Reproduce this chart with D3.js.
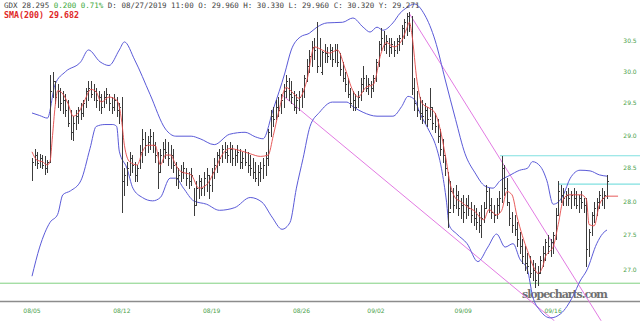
<!DOCTYPE html>
<meta charset="utf-8">
<!-- Load d3.js -->
<script src="https://d3js.org/d3.v7.min.js"></script>
<style>
  body { margin: 0; background: #fff; }
  svg { display: block; }
</style>
<div id="my_dataviz"></div>
<script>

// hourly bars, 7 per trading day
var highs = [
  28.65, 28.80, 28.75, 28.72, 28.70, 28.68, 28.62,
  29.95, 30.00, 29.85, 29.80, 29.75, 29.70, 29.65,
  29.55, 29.40, 29.30, 29.40, 29.45, 29.50, 29.55,
  29.75, 29.85, 29.85, 29.80, 29.75, 29.70, 29.65,
  29.70, 29.75, 29.65, 29.60, 29.65, 29.60, 29.50,
  29.60, 28.50, 28.60, 28.75, 28.70, 28.60, 28.55,
  28.85, 29.10, 29.05, 29.00, 29.10, 29.05, 28.90,
  28.75, 28.80, 28.90, 28.95, 28.90, 28.85, 28.80,
  28.60, 28.50, 28.55, 28.60, 28.50, 28.45, 28.50,
  28.20, 28.30, 28.40, 28.35, 28.45, 28.50, 28.40,
  28.50, 28.65, 28.75, 28.80, 28.85, 28.90, 28.85,
  28.90, 28.85, 28.80, 28.85, 28.80, 28.75, 28.80,
  28.75, 28.70, 28.65, 28.60, 28.55, 28.60, 28.65,
  28.75, 29.10, 29.40, 29.45, 29.55, 29.60, 29.65,
  29.80, 29.95, 29.90, 29.85, 29.70, 29.65, 29.70,
  29.75, 29.95, 30.20, 30.35, 30.50, 30.55, 30.80,
  30.55, 30.33, 30.45, 30.40, 30.45, 30.40, 30.45,
  30.45, 30.30, 30.15, 30.00, 29.90, 29.75, 29.70,
  29.65, 29.70, 29.90, 30.10, 29.95, 29.90, 29.85,
  29.95, 30.20, 30.50, 30.70, 30.65, 30.60, 30.55,
  30.55, 30.50, 30.55, 30.60, 30.75, 30.85, 30.95,
  30.97, 30.90, 29.90, 29.70, 29.60, 29.55, 29.50,
  29.45, 29.75, 29.45, 29.35, 29.25, 29.10, 28.95,
  28.70, 28.45, 28.30, 28.20, 28.25, 28.15, 28.05,
  28.10, 28.05, 28.10, 28.00, 27.95, 27.90, 27.85,
  27.95, 28.00, 28.25, 28.20, 28.05, 27.95, 28.05,
  28.15, 28.68, 28.55, 28.35, 28.00, 27.85, 27.80,
  27.70, 27.55, 27.45, 27.35, 27.25, 27.20, 27.15,
  27.10, 27.05, 27.20, 27.35, 27.45, 27.50, 27.45,
  27.55, 27.90, 28.30, 28.25, 28.20, 28.15, 28.20,
  28.15, 28.20, 28.15, 28.10, 28.15, 28.05, 28.05,
  27.60, 27.85, 28.00, 28.05, 28.15, 28.20, 28.15,
  28.40
];
var lows = [
  28.32, 28.55, 28.50, 28.52, 28.50, 28.42, 28.45,
  28.60, 29.60, 29.50, 29.45, 29.40, 29.35, 29.30,
  29.15, 28.95, 28.93, 29.10, 29.20, 29.25, 29.30,
  29.45, 29.55, 29.60, 29.55, 29.45, 29.40, 29.35,
  29.45, 29.50, 29.40, 29.35, 29.40, 29.30, 29.20,
  27.85, 28.10, 28.25, 28.40, 28.45, 28.30, 28.30,
  28.50, 28.60, 28.70, 28.75, 28.80, 28.75, 28.60,
  28.20, 28.45, 28.60, 28.65, 28.55, 28.50, 28.45,
  28.25, 28.20, 28.30, 28.35, 28.25, 28.20, 28.25,
  27.80, 27.95, 28.05, 28.10, 28.10, 28.15, 28.05,
  28.15, 28.35, 28.45, 28.55, 28.60, 28.65, 28.60,
  28.60, 28.55, 28.55, 28.60, 28.50, 28.50, 28.55,
  28.45, 28.40, 28.35, 28.30, 28.25, 28.30, 28.35,
  28.40, 28.55, 29.00, 29.15, 29.25, 29.30, 29.35,
  29.45, 29.60, 29.55, 29.50, 29.40, 29.35, 29.40,
  29.45, 29.60, 29.85, 30.00, 30.10, 30.20, 30.00,
  30.10, 29.96, 30.15, 30.15, 30.20, 30.10, 30.15,
  30.10, 29.95, 29.85, 29.70, 29.60, 29.45, 29.40,
  29.40, 29.45, 29.55, 29.70, 29.70, 29.65, 29.60,
  29.70, 29.85, 30.10, 30.35, 30.35, 30.30, 30.25,
  30.30, 30.25, 30.30, 30.35, 30.45, 30.55, 30.60,
  30.65, 29.65, 29.40, 29.30, 29.25, 29.20, 29.20,
  29.15, 29.30, 29.10, 29.05, 28.90, 28.70, 28.60,
  28.40, 27.62, 27.90, 27.85, 27.90, 27.80, 27.75,
  27.70, 27.75, 27.80, 27.70, 27.65, 27.60, 27.55,
  27.48, 27.70, 27.90, 27.85, 27.75, 27.70, 27.75,
  27.85, 28.00, 28.10, 27.95, 27.65, 27.55, 27.50,
  27.35, 27.25, 27.10, 27.00, 26.95, 26.90, 26.85,
  26.75, 26.78, 26.95, 27.05, 27.15, 27.25, 27.20,
  27.25, 27.45, 27.80, 28.00, 27.95, 27.95, 27.95,
  27.90, 27.95, 27.90, 27.85, 27.90, 27.85, 27.05,
  27.20, 27.50, 27.70, 27.80, 27.90, 27.95, 27.90,
  28.05
];
var opens = [
  28.40, 28.60, 28.70, 28.58, 28.65, 28.55, 28.50,
  28.62, 29.70, 29.85, 29.60, 29.70, 29.50, 29.55,
  29.40, 29.20, 29.05, 29.20, 29.30, 29.40, 29.35,
  29.50, 29.70, 29.75, 29.65, 29.70, 29.55, 29.60,
  29.45, 29.60, 29.65, 29.50, 29.45, 29.55, 29.40,
  29.45, 28.30, 28.40, 28.50, 28.65, 28.55, 28.40,
  28.50, 28.75, 28.95, 28.85, 28.90, 29.00, 28.85,
  28.70, 28.45, 28.70, 28.80, 28.75, 28.65, 28.70,
  28.55, 28.35, 28.40, 28.45, 28.50, 28.35, 28.30,
  28.10, 27.95, 28.20, 28.30, 28.20, 28.35, 28.40,
  28.25, 28.45, 28.55, 28.70, 28.65, 28.80, 28.75,
  28.70, 28.80, 28.65, 28.70, 28.75, 28.60, 28.65,
  28.60, 28.55, 28.50, 28.45, 28.35, 28.45, 28.50,
  28.55, 28.65, 29.05, 29.30, 29.25, 29.45, 29.40,
  29.55, 29.70, 29.85, 29.65, 29.60, 29.45, 29.55,
  29.60, 29.70, 29.90, 30.10, 30.25, 30.40, 30.35,
  30.10, 29.96, 30.32, 30.30, 30.25, 30.35, 30.20,
  30.35, 30.15, 30.05, 29.90, 29.80, 29.65, 29.50,
  29.55, 29.45, 29.60, 29.80, 29.90, 29.75, 29.80,
  29.75, 29.90, 30.15, 30.45, 30.55, 30.45, 30.50,
  30.40, 30.45, 30.35, 30.50, 30.55, 30.70, 30.80,
  30.90, 30.75, 29.75, 29.50, 29.40, 29.35, 29.30,
  29.40, 29.25, 29.45, 29.20, 29.15, 29.00, 28.80,
  28.70, 28.45, 27.85, 28.15, 27.95, 28.10, 27.90,
  27.95, 27.85, 27.95, 27.90, 27.80, 27.75, 27.70,
  27.65, 27.75, 27.90, 28.15, 27.95, 27.85, 27.80,
  27.95, 28.05, 28.50, 28.20, 28.00, 27.75, 27.65,
  27.60, 27.45, 27.35, 27.20, 27.10, 27.05, 26.95,
  27.00, 26.85, 26.95, 27.15, 27.25, 27.40, 27.35,
  27.40, 27.50, 27.80, 28.15, 28.10, 28.05, 28.10,
  28.05, 28.10, 28.05, 27.95, 28.05, 28.00, 27.95,
  27.30, 27.55, 27.80, 27.90, 28.00, 28.10, 28.05,
  28.10
];
var closes = [
  28.60, 28.70, 28.58, 28.65, 28.55, 28.50, 28.60,
  29.70, 29.85, 29.60, 29.70, 29.50, 29.55, 29.40,
  29.20, 29.05, 29.20, 29.30, 29.40, 29.35, 29.50,
  29.70, 29.75, 29.65, 29.70, 29.55, 29.60, 29.45,
  29.60, 29.65, 29.50, 29.45, 29.55, 29.40, 29.45,
  28.30, 28.40, 28.50, 28.65, 28.55, 28.40, 28.50,
  28.75, 28.95, 28.85, 28.90, 29.00, 28.85, 28.70,
  28.45, 28.70, 28.80, 28.75, 28.65, 28.70, 28.55,
  28.35, 28.40, 28.45, 28.50, 28.35, 28.30, 28.40,
  27.95, 28.20, 28.30, 28.20, 28.35, 28.40, 28.25,
  28.45, 28.55, 28.70, 28.65, 28.80, 28.75, 28.70,
  28.80, 28.65, 28.70, 28.75, 28.60, 28.65, 28.60,
  28.55, 28.50, 28.45, 28.35, 28.45, 28.50, 28.55,
  28.65, 29.05, 29.30, 29.25, 29.45, 29.40, 29.55,
  29.70, 29.85, 29.65, 29.60, 29.45, 29.55, 29.60,
  29.70, 29.90, 30.10, 30.25, 30.40, 30.35, 30.10,
  30.00, 30.32, 30.30, 30.25, 30.35, 30.20, 30.35,
  30.15, 30.05, 29.90, 29.80, 29.65, 29.50, 29.55,
  29.45, 29.60, 29.80, 29.90, 29.75, 29.80, 29.75,
  29.90, 30.15, 30.45, 30.55, 30.45, 30.50, 30.40,
  30.45, 30.35, 30.50, 30.55, 30.70, 30.80, 30.90,
  30.75, 29.75, 29.50, 29.40, 29.35, 29.30, 29.40,
  29.25, 29.45, 29.20, 29.15, 29.00, 28.80, 28.70,
  28.50, 27.85, 28.15, 27.95, 28.10, 27.90, 27.95,
  27.85, 27.95, 27.90, 27.80, 27.75, 27.70, 27.65,
  27.75, 27.90, 28.15, 27.95, 27.85, 27.80, 27.95,
  28.05, 28.50, 28.20, 28.00, 27.75, 27.65, 27.60,
  27.45, 27.35, 27.20, 27.10, 27.05, 26.95, 27.00,
  26.85, 26.95, 27.15, 27.25, 27.40, 27.35, 27.40,
  27.50, 27.80, 28.15, 28.10, 28.05, 28.10, 28.05,
  28.10, 28.05, 27.95, 28.05, 28.00, 27.95, 27.30,
  27.55, 27.80, 27.90, 28.00, 28.10, 28.05, 28.10,
  28.30
];

// red moving average (bar index, price)
var maIdx = [0, 2, 4, 6, 7, 8, 9, 10, 12, 14, 16, 18, 20, 23, 25, 27, 30, 33, 34, 35, 36, 38, 41, 43, 45, 48,
  50, 52, 54, 56, 58, 62, 65, 68, 71, 74, 77, 81, 85, 89, 92, 94, 96, 99, 102, 104, 107, 110, 113, 116,
  119, 122, 125, 127, 130, 133, 136, 138, 141, 144, 146, 147, 148, 150, 152, 155, 157, 159, 161, 163,
  165, 167, 170, 172, 176, 178, 181, 183, 185, 187, 189, 191, 193, 196, 197, 199, 200, 202, 203, 205,
  207, 209, 214, 216, 217, 219, 221, 223, 224, 228.3];
var maVal = [28.75, 28.62, 28.60, 28.55, 28.60, 29.00, 29.45, 29.70, 29.65, 29.50, 29.30, 29.35, 29.50,
  29.72, 29.68, 29.52, 29.60, 29.55, 29.45, 29.20, 28.85, 28.60, 28.55, 28.75, 28.85, 28.85,
  28.55, 28.70, 28.70, 28.55, 28.45, 28.40, 28.20, 28.25, 28.45, 28.70, 28.80, 28.77, 28.72, 28.68,
  28.70, 29.00, 29.35, 29.75, 29.65, 29.58, 29.85, 30.40, 30.35, 30.30,
  30.35, 30.05, 29.70, 29.60, 29.75, 29.80, 30.30, 30.47, 30.40, 30.50, 30.70, 30.80, 30.60, 29.85,
  29.50, 29.42, 29.35, 29.10, 28.70, 28.25,
  28.05, 28.00, 27.91, 27.87, 27.73, 27.88, 27.80, 27.87, 28.15, 28.10, 27.77, 27.50, 27.28, 27.00,
  26.95, 27.05, 27.19, 27.28, 27.33, 27.66,
  28.03, 28.10, 28.10, 28.03, 27.66, 27.64, 27.95, 28.06, 28.08, 28.08];

// bollinger bands (bar index, price)
var upIdx = [0, 3, 6, 9, 13, 19, 22, 26.5, 30, 34, 36, 40, 46, 52, 56, 62, 65.5, 71, 77, 83, 87, 90, 94,
  98.5, 101, 104.5, 108, 111, 115, 121, 125, 129, 131.7, 134.4, 136.7, 140.6, 143.4, 146, 149, 153,
  157, 161, 165, 168.7, 172.6, 176.5, 179.6, 182.3, 186, 190, 193, 195, 198, 200.6, 203, 205, 207,
  209.7, 213.5, 217.4, 221, 224];
var upVal = [29.35, 29.31, 29.27, 29.80, 30.00, 30.16, 30.35, 30.16, 30.10, 30.35, 30.48, 30.19, 29.64,
  29.10, 28.99, 28.99, 28.95, 28.86, 29.02, 29.05, 28.98, 28.95, 29.41,
  29.98, 30.35, 30.56, 30.62, 30.72, 30.79, 30.80, 30.87, 30.72, 30.64, 30.72, 30.67, 30.79, 30.95,
  31.04, 31.10, 30.92, 30.51, 29.87, 29.25, 28.72, 28.43, 28.23, 28.20, 28.31, 28.39, 28.47, 28.50,
  28.60, 28.53, 28.31, 27.96, 27.99, 28.10, 28.35, 28.47, 28.46, 28.40, 28.38];
var loIdx = [0, 3, 7, 10, 12, 15, 19, 22.6, 25, 28.4, 31.5, 33, 34, 37, 39.3, 43, 47, 50, 53.8, 56, 59,
  63, 68, 73, 79, 85, 89.6, 93.5, 97.4, 100.5, 103, 105.6, 108.3, 112, 117, 122.7, 125, 129, 134.4,
  140.6, 144, 146.5, 149, 151, 155, 157, 159.5, 161.5, 162.5, 165.5, 169.5, 173.7, 177.6, 181, 184.3,
  187.4, 190, 193, 195, 198, 202, 206, 210.8, 213.5, 216.2, 220, 222.4, 224];
var loVal = [26.91, 27.33, 27.69, 27.81, 28.10, 28.16, 28.31, 28.80, 29.14, 29.17, 29.17, 29.14, 28.76,
  28.50, 28.20, 28.06, 28.01, 28.06, 28.35, 28.35, 28.20, 28.01, 27.96, 27.87, 27.91, 28.06, 27.99,
  27.77, 27.59, 27.69, 28.20, 28.65, 29.14, 29.36, 29.52, 29.52, 29.45, 29.36, 29.30, 29.30, 29.45,
  29.61, 29.56, 29.36, 29.05, 28.88, 28.50, 27.99, 27.65, 27.52, 27.38, 27.12, 27.33, 27.52, 27.33,
  27.38, 27.16, 27.00, 26.63, 26.42, 26.32, 26.38, 26.63, 26.84, 27.00, 27.38, 27.53, 27.58];

// drawn trend lines (bar index, price) and horizontal levels
var trendA = [[97.8, 29.62], [203.5, 26.28]];
var trendB = [[146.9, 30.95], [221.7, 26.28]];
var cyanLevels = [[182.3, 28.69], [205, 28.26]];
var greenLevel = 26.81;

var xTickIdx = [0, 35, 70, 105, 134, 168, 203];
var xTickLabels = ["08/05", "08/12", "08/19", "08/26", "09/02", "09/09", "09/16"];
var yTicks = [27.0, 27.5, 28.0, 28.5, 29.0, 29.5, 30.0, 30.5];

var width = 640, height = 321;

var svg = d3.select("#my_dataviz")
  .append("svg")
    .attr("width", width)
    .attr("height", height)
    .style("font-family", "DejaVu Sans Mono, monospace");

var x = d3.scaleLinear().domain([0, 224]).range([32, 607]);
var y = d3.scaleLog().domain([26.60, 31.167]).range([298, 0]);

// horizontal levels
svg.append("line")
  .attr("x1", 0).attr("x2", width)
  .attr("y1", y(greenLevel)).attr("y2", y(greenLevel))
  .attr("stroke", "#80d080").attr("stroke-width", 1);
cyanLevels.forEach(function(c) {
  svg.append("line")
    .attr("x1", x(c[0])).attr("x2", width)
    .attr("y1", y(c[1])).attr("y2", y(c[1]))
    .attr("stroke", "#80e0e0").attr("stroke-width", 1.2);
});

// bottom axis line
svg.append("line")
  .attr("x1", 0).attr("x2", width)
  .attr("y1", 301.5).attr("y2", 301.5)
  .attr("stroke", "#8c8c8c").attr("stroke-width", 1.5);

// watermark
svg.append("text")
  .attr("x", 522).attr("y", 298)
  .attr("textLength", 86)
  .style("font-family", "DejaVu Serif, serif")
  .style("font-weight", "bold")
  .style("font-size", "11px")
  .style("fill", "#707070")
  .text("slopecharts.com");

// trend lines
[trendA, trendB].forEach(function(t) {
  svg.append("line")
    .attr("x1", x(t[0][0])).attr("y1", y(t[0][1]))
    .attr("x2", x(t[1][0])).attr("y2", y(t[1][1]))
    .attr("stroke", "#e27ae2").attr("stroke-width", 1);
});

// bollinger bands
var band = d3.line()
  .x(function(d) { return x(d[0]); })
  .y(function(d) { return y(d[1]); })
  .curve(d3.curveMonotoneX);
svg.append("path")
  .attr("d", band(d3.zip(upIdx, upVal)))
  .attr("fill", "none").attr("stroke", "#5a5ad8").attr("stroke-width", 1);
svg.append("path")
  .attr("d", band(d3.zip(loIdx, loVal)))
  .attr("fill", "none").attr("stroke", "#5a5ad8").attr("stroke-width", 1);

// OHLC bars
var bars = svg.append("g")
  .attr("stroke", "#3c3c3c")
  .attr("stroke-width", 1)
  .attr("shape-rendering", "crispEdges");
highs.forEach(function(h, i) {
  var bx = Math.round(x(i)) + 0.5;
  bars.append("line")
    .attr("x1", bx).attr("x2", bx)
    .attr("y1", y(h)).attr("y2", y(lows[i]) + 1);
  bars.append("line")
    .attr("x1", bx - 1).attr("x2", bx)
    .attr("y1", Math.round(y(opens[i])) + 0.5).attr("y2", Math.round(y(opens[i])) + 0.5);
  bars.append("line")
    .attr("x1", bx).attr("x2", bx + 1.5)
    .attr("y1", Math.round(y(closes[i])) + 0.5).attr("y2", Math.round(y(closes[i])) + 0.5);
});

// moving average
svg.append("path")
  .attr("d", band(d3.zip(maIdx, maVal)))
  .attr("fill", "none").attr("stroke", "#e44848").attr("stroke-width", 0.9);

// right price labels
svg.append("g").selectAll("text")
  .data(yTicks)
  .enter()
  .append("text")
    .attr("x", 630)
    .attr("y", function(d) { return y(d) + 2; })
    .attr("text-anchor", "middle")
    .style("font-family", "DejaVu Sans, sans-serif")
    .style("font-size", "6px")
    .style("fill", "#4aa04a")
    .text(function(d) { return d.toFixed(1); });

// date labels
svg.append("g").selectAll("text")
  .data(xTickIdx)
  .enter()
  .append("text")
    .attr("x", function(d) { return x(d); })
    .attr("y", 313)
    .attr("text-anchor", "middle")
    .style("font-family", "DejaVu Sans, sans-serif")
    .style("font-size", "6px")
    .style("fill", "#4aa04a")
    .text(function(d, i) { return xTickLabels[i]; });

// header
var h1 = svg.append("text")
  .attr("x", 4).attr("y", 7.5)
  .style("font-size", "7.5px")
  .style("fill", "#444");
h1.append("tspan").text("GDX 28.295 ");
h1.append("tspan").style("fill", "#3aa83a").text("0.200 0.71%");
h1.append("tspan").text(" D: 08/27/2019 11:00 O: 29.960 H: 30.330 L: 29.960 C: 30.320 Y: 29.271");

svg.append("text")
  .attr("x", 4).attr("y", 17.5)
  .style("font-size", "8.3px")
  .style("font-weight", "bold")
  .style("fill", "#e02828")
  .text("SMA(200) 29.682");

</script>
